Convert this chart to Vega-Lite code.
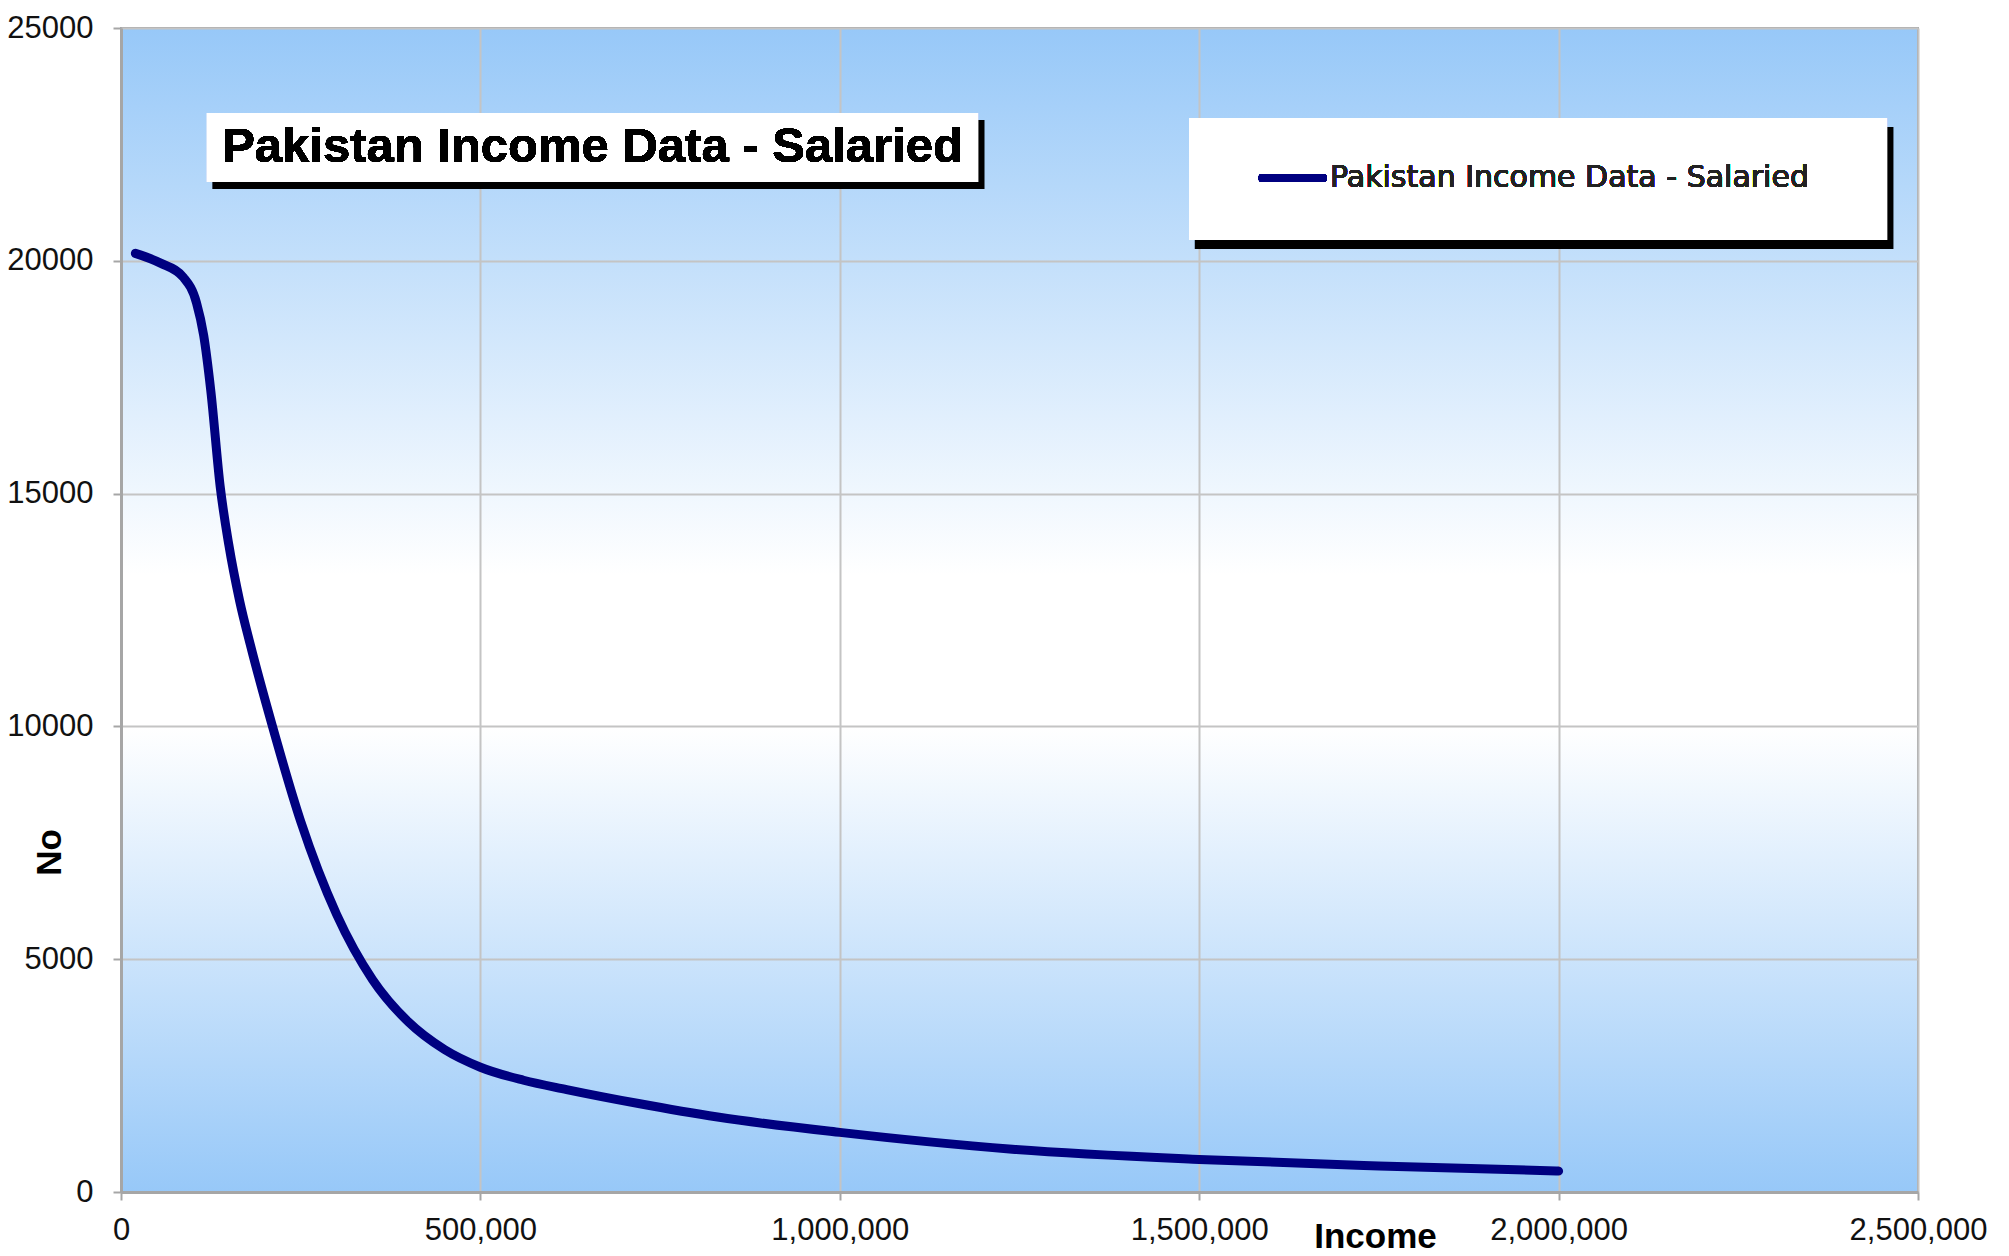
{
  "$schema": "https://vega.github.io/schema/vega-lite/v6.json",
  "width": 1797,
  "height": 1164,
  "autosize": {"type": "none"},
  "padding": {"left": 121, "top": 28, "right": 91, "bottom": 64},
  "background": "white",
  "config": {
    "view": {
      "stroke": "#A6A6A6",
      "strokeWidth": 2,
      "fill": {
        "gradient": "linear",
        "x1": 0, "y1": 0, "x2": 0, "y2": 1,
        "stops": [
          {"offset": 0, "color": "#97C8F8"},
          {"offset": 0.47, "color": "#FFFFFF"},
          {"offset": 0.6, "color": "#FFFFFF"},
          {"offset": 1, "color": "#97C8F8"}
        ]
      }
    },
    "axis": {
      "labelFont": "Liberation Sans, Arial",
      "labelFontSize": 31,
      "labelColor": "#111111",
      "labelFlush": false,
      "titleFont": "Liberation Sans, Arial",
      "titleFontWeight": "bold",
      "titleFontSize": 35,
      "titleColor": "#000000",
      "gridColor": "#C4C4C4",
      "gridWidth": 2,
      "domainColor": "#A6A6A6",
      "domainWidth": 3,
      "tickColor": "#A6A6A6",
      "tickWidth": 2,
      "tickSize": 8
    }
  },
  "data": {
    "values": [
      {"income": 20000, "no": 20160},
      {"income": 55000, "no": 19950},
      {"income": 87000, "no": 19640},
      {"income": 105000, "no": 19100},
      {"income": 115000, "no": 18400},
      {"income": 125000, "no": 17200},
      {"income": 138000, "no": 15150},
      {"income": 150000, "no": 13900},
      {"income": 165000, "no": 12700},
      {"income": 180000, "no": 11750},
      {"income": 210000, "no": 10040},
      {"income": 250000, "no": 7960},
      {"income": 300000, "no": 5960},
      {"income": 350000, "no": 4560},
      {"income": 400000, "no": 3650},
      {"income": 450000, "no": 3060},
      {"income": 500000, "no": 2680},
      {"income": 560000, "no": 2400},
      {"income": 620000, "no": 2200},
      {"income": 720000, "no": 1900},
      {"income": 830000, "no": 1610},
      {"income": 1000000, "no": 1280},
      {"income": 1240000, "no": 920},
      {"income": 1500000, "no": 700},
      {"income": 1750000, "no": 560},
      {"income": 2000000, "no": 450}
    ]
  },
  "layer": [
    {
      "mark": {"type": "line", "color": "#000080", "strokeWidth": 9, "strokeCap": "round", "strokeJoin": "round", "interpolate": "monotone"},
      "encoding": {
        "x": {
          "field": "income", "type": "quantitative",
          "scale": {"domain": [0, 2500000], "nice": false},
          "axis": {
            "values": [0, 500000, 1000000, 1500000, 2000000, 2500000],
            "format": ",d",
            "labelPadding": 15,
            "title": "Income",
            "titleX": 1254,
            "titleY": 44,
            "titleAlign": "center",
            "titleBaseline": "middle"
          }
        },
        "y": {
          "field": "no", "type": "quantitative",
          "scale": {"domain": [0, 25000], "nice": false},
          "axis": {
            "values": [0, 5000, 10000, 15000, 20000, 25000],
            "format": "d",
            "labelPadding": 20,
            "title": "No",
            "titleX": -72,
            "titleY": 824,
            "titleAlign": "center",
            "titleBaseline": "middle"
          }
        }
      }
    },
    {
      "mark": {"type": "rect", "color": "#000000", "xOffset": 6, "x2Offset": 6, "yOffset": 7, "y2Offset": 7},
      "encoding": {
        "x": {"datum": 119600, "type": "quantitative"},
        "x2": {"datum": 1192300},
        "y": {"datum": 23175, "type": "quantitative"},
        "y2": {"datum": 21693}
      }
    },
    {
      "mark": {"type": "rect", "color": "#FFFFFF", "opacity": 1},
      "encoding": {
        "x": {"datum": 119600, "type": "quantitative"},
        "x2": {"datum": 1192300},
        "y": {"datum": 23175, "type": "quantitative"},
        "y2": {"datum": 21693}
      }
    },
    {
      "mark": {"type": "text", "text": "Pakistan Income Data - Salaried", "font": "Liberation Sans, Arial", "fontWeight": "bold", "fontSize": 49, "color": "#000000", "align": "center", "baseline": "middle"},
      "encoding": {
        "x": {"datum": 656000, "type": "quantitative"},
        "y": {"datum": 22434, "type": "quantitative"}
      }
    },
    {
      "mark": {"type": "rect", "color": "#000000", "xOffset": 6, "x2Offset": 6, "yOffset": 9, "y2Offset": 9},
      "encoding": {
        "x": {"datum": 1485800, "type": "quantitative"},
        "x2": {"datum": 2456900},
        "y": {"datum": 23067, "type": "quantitative"},
        "y2": {"datum": 20447}
      }
    },
    {
      "mark": {"type": "rect", "color": "#FFFFFF", "opacity": 1},
      "encoding": {
        "x": {"datum": 1485800, "type": "quantitative"},
        "x2": {"datum": 2456900},
        "y": {"datum": 23067, "type": "quantitative"},
        "y2": {"datum": 20447}
      }
    },
    {
      "mark": {"type": "rule", "color": "#000080", "strokeWidth": 8, "strokeCap": "round"},
      "encoding": {
        "x": {"datum": 1588000, "type": "quantitative"},
        "x2": {"datum": 1672000},
        "y": {"datum": 21779, "type": "quantitative"}
      }
    },
    {
      "mark": {"type": "text", "text": "Pakistan Income Data - Salaried", "font": "DejaVu Sans", "fontSize": 30, "color": "#222222", "align": "left", "baseline": "middle"},
      "encoding": {
        "x": {"datum": 1682000, "type": "quantitative"},
        "y": {"datum": 21779, "type": "quantitative"}
      }
    }
  ]
}
